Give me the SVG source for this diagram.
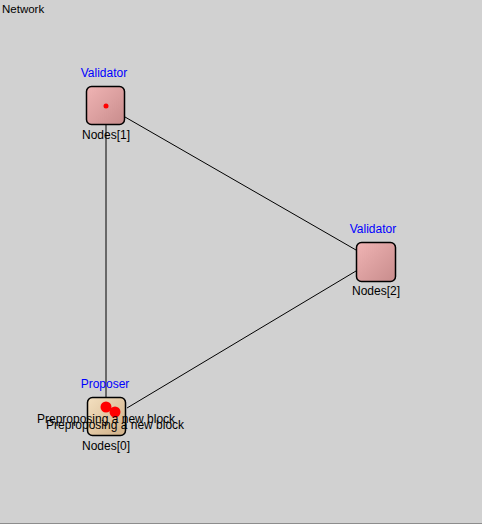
<svg xmlns="http://www.w3.org/2000/svg" width="482" height="524" viewBox="0 0 482 524">
<style>
text{font-family:"Liberation Sans",Arial,sans-serif;font-size:12px}
.role{fill:#0000ff;text-anchor:middle}
.name{fill:#000;text-anchor:middle}
.box{stroke:#000;stroke-width:1.5}
.msg{fill:#000}
</style>
<defs>
<linearGradient id="gv" x1="0" y1="0" x2="1" y2="1">
<stop offset="0" stop-color="#f0b4b4"/>
<stop offset="1" stop-color="#c88c8c"/>
</linearGradient>
<linearGradient id="gp" x1="0" y1="0" x2="1" y2="1">
<stop offset="0" stop-color="#f4e0c0"/>
<stop offset="1" stop-color="#d0b088"/>
</linearGradient>
</defs>
<rect width="482" height="524" fill="#d1d1d1"/>
<rect x="0" y="523" width="482" height="1" fill="#8c8c8c"/>
<text x="2" y="13" style="font-size:11.5px">Network</text>
<g id="connectors" stroke="#000" stroke-width="1">
<line x1="106" y1="124" x2="106" y2="397"/>
<line x1="125" y1="117" x2="356" y2="250"/>
<line x1="127" y1="408" x2="356" y2="271"/>
</g>
<g id="node1">
<text class="role" x="104" y="77">Validator</text>
<rect class="box" x="86.5" y="86.5" width="38" height="38" rx="5" fill="url(#gv)"/>
<circle cx="106" cy="106" r="2.5" fill="#ff0000"/>
<text class="name" x="106" y="139">Nodes[1]</text>
</g>
<g id="node2">
<text class="role" x="373" y="233">Validator</text>
<rect class="box" x="356.5" y="242.5" width="39" height="39" rx="5" fill="url(#gv)"/>
<text class="name" x="376" y="295">Nodes[2]</text>
</g>
<g id="node0">
<text class="role" x="105" y="388">Proposer</text>
<rect class="box" x="87.5" y="397.5" width="38" height="38" rx="5" fill="url(#gp)"/>
<circle cx="106" cy="407" r="5.5" fill="#ff0000"/>
<circle cx="115" cy="412" r="5.5" fill="#ff0000"/>
<text class="msg" x="37" y="423">Preproposing a new block</text>
<text class="msg" x="46" y="429">Preproposing a new block</text>
<text class="name" x="106" y="450">Nodes[0]</text>
</g>
</svg>
